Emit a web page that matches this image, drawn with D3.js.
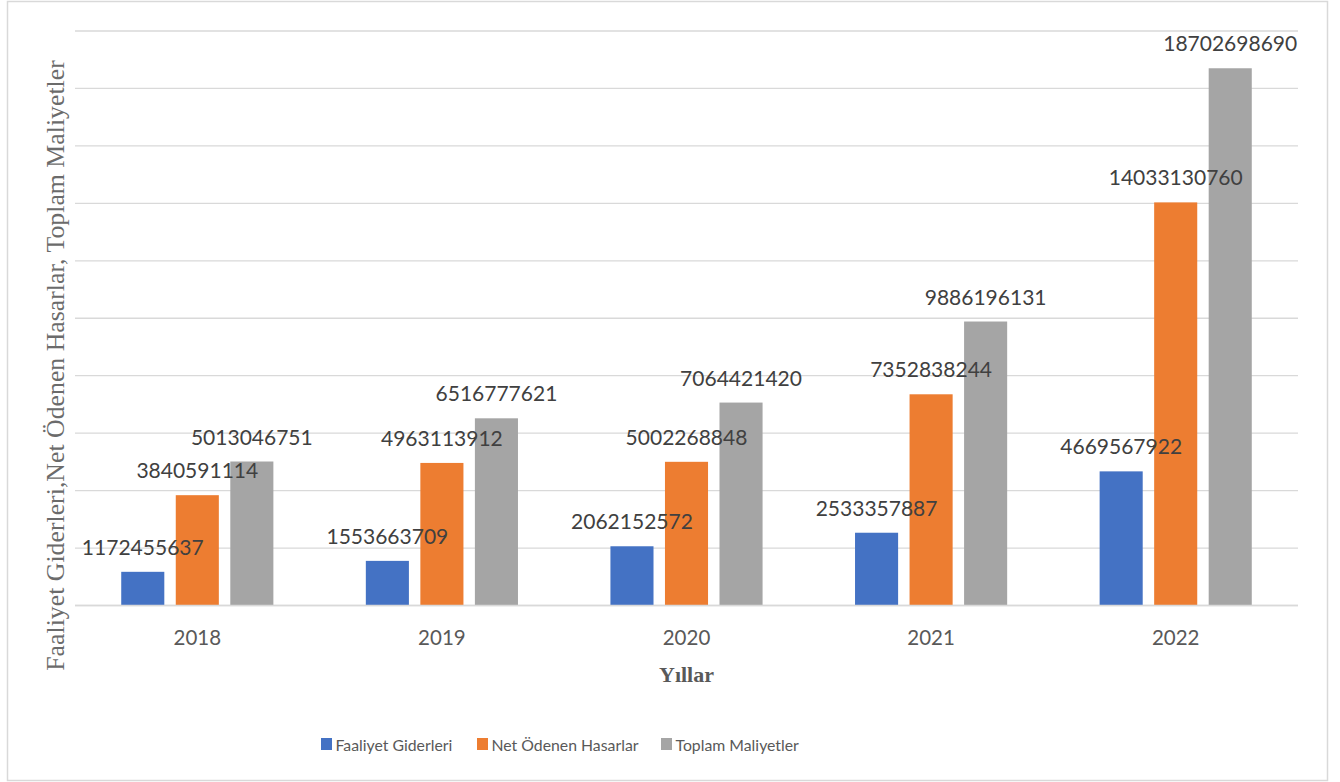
<!DOCTYPE html>
<html>
<head>
<meta charset="utf-8">
<script src="https://cdn.jsdelivr.net/npm/d3@7"></script>
<style>
  body { margin: 0; background: #fff; }
  svg { display: block; }
</style>
</head>
<body>
<div id="chart"></div>
<script>
// data
const years = ["2018", "2019", "2020", "2021", "2022"];
const seriesNames = ["Faaliyet Giderleri", "Net Ödenen Hasarlar", "Toplam Maliyetler"];
const faaliyetGiderleri = [1172455637, 1553663709, 2062152572, 2533357887, 4669567922];
const netOdenenHasarlar = [3840591114, 4963113912, 5002268848, 7352838244, 14033130760];
const toplamMaliyetler = [5013046751, 6516777621, 7064421420, 9886196131, 18702698690];
const seriesColors = ["#4472C4", "#ED7D31", "#A5A5A5"];
const yTicks = [0, 2e9, 4e9, 6e9, 8e9, 10e9, 12e9, 14e9, 16e9, 18e9, 20e9];

const width = 1340, height = 782;
const margin = { top: 31, right: 42, bottom: 176.5, left: 75 };
const seriesValues = [faaliyetGiderleri, netOdenenHasarlar, toplamMaliyetler];
const sans = "Lato, 'Open Sans', sans-serif";

const svg = d3.select("#chart").append("svg")
  .attr("width", width)
  .attr("height", height);

// chart border
svg.append("rect")
  .attr("x", 7.5).attr("y", 1.5)
  .attr("width", 1320).attr("height", 779)
  .attr("fill", "#fff")
  .attr("stroke", "#d9d9d9")
  .attr("stroke-width", 1.5);

const x0 = d3.scaleBand()
  .domain(years)
  .range([margin.left, width - margin.right])
  .paddingInner(0.378)
  .paddingOuter(0.189);

const x1 = d3.scaleBand()
  .domain(seriesNames)
  .range([0, x0.bandwidth()])
  .paddingInner(0.21);

const y = d3.scaleLinear()
  .domain([0, 20e9])
  .range([height - margin.bottom, margin.top]);

// gridlines
svg.append("g")
  .selectAll("line")
  .data(yTicks)
  .join("line")
  .attr("x1", margin.left)
  .attr("x2", width - margin.right)
  .attr("y1", d => y(d))
  .attr("y2", d => y(d))
  .attr("stroke", "#d9d9d9")
  .attr("stroke-width", 1.3);

// bars
const rows = years.map((yr, i) => ({
  year: yr,
  values: seriesNames.map((s, j) => ({ key: s, value: seriesValues[j][i], color: seriesColors[j] }))
}));

const groups = svg.append("g")
  .selectAll("g")
  .data(rows)
  .join("g")
  .attr("transform", d => `translate(${x0(d.year)},0)`);

groups.selectAll("rect")
  .data(d => d.values)
  .join("rect")
  .attr("x", d => x1(d.key))
  .attr("y", d => y(d.value))
  .attr("width", x1.bandwidth())
  .attr("height", d => y(0) - y(d.value))
  .attr("fill", d => d.color);

// baseline on top of bars
svg.append("line")
  .attr("x1", margin.left).attr("x2", width - margin.right)
  .attr("y1", y(0)).attr("y2", y(0))
  .attr("stroke", "#d9d9d9").attr("stroke-width", 1.5);

// data labels
groups.selectAll("text")
  .data(d => d.values)
  .join("text")
  .attr("x", d => x1(d.key) + x1.bandwidth() / 2)
  .attr("y", d => y(d.value) - 17)
  .attr("text-anchor", "middle")
  .attr("font-family", sans)
  .attr("font-size", 21)
  .attr("fill", "#404040")
  .text(d => d.value);

// x axis
const xAxis = svg.append("g")
  .attr("transform", `translate(0,${y(0)})`)
  .call(d3.axisBottom(x0).tickSize(0).tickPadding(0));
xAxis.select(".domain").remove();
xAxis.selectAll("text")
  .attr("dy", null)
  .attr("y", 39)
  .attr("font-family", sans)
  .attr("font-size", 20.5)
  .attr("fill", "#595959");

// axis titles
svg.append("text")
  .attr("x", (margin.left + width - margin.right) / 2)
  .attr("y", 682)
  .attr("text-anchor", "middle")
  .attr("font-family", "'Liberation Serif', serif")
  .attr("font-weight", "bold")
  .attr("font-size", 22)
  .attr("fill", "#595959")
  .text("Yıllar");

svg.append("text")
  .attr("transform", `translate(64,${(63 + 668) / 2}) rotate(-90)`)
  .attr("text-anchor", "middle")
  .attr("font-family", "'Liberation Serif', serif")
  .attr("font-size", 25.8)
  .attr("fill", "#6b6b6b")
  .text("Faaliyet Giderleri,Net Ödenen Hasarlar, Toplam Maliyetler");

// legend
const legendX = [321, 477, 661];
const legend = svg.append("g")
  .selectAll("g")
  .data(seriesNames)
  .join("g")
  .attr("transform", (d, i) => `translate(${legendX[i]},738)`);

legend.append("rect")
  .attr("width", 11).attr("height", 12)
  .attr("y", 0)
  .attr("fill", (d, i) => seriesColors[i]);

legend.append("text")
  .attr("x", 14.5)
  .attr("y", 12.5)
  .attr("font-family", sans)
  .attr("font-size", 15.8)
  .attr("fill", "#595959")
  .text(d => d);
</script>
</body>
</html>
